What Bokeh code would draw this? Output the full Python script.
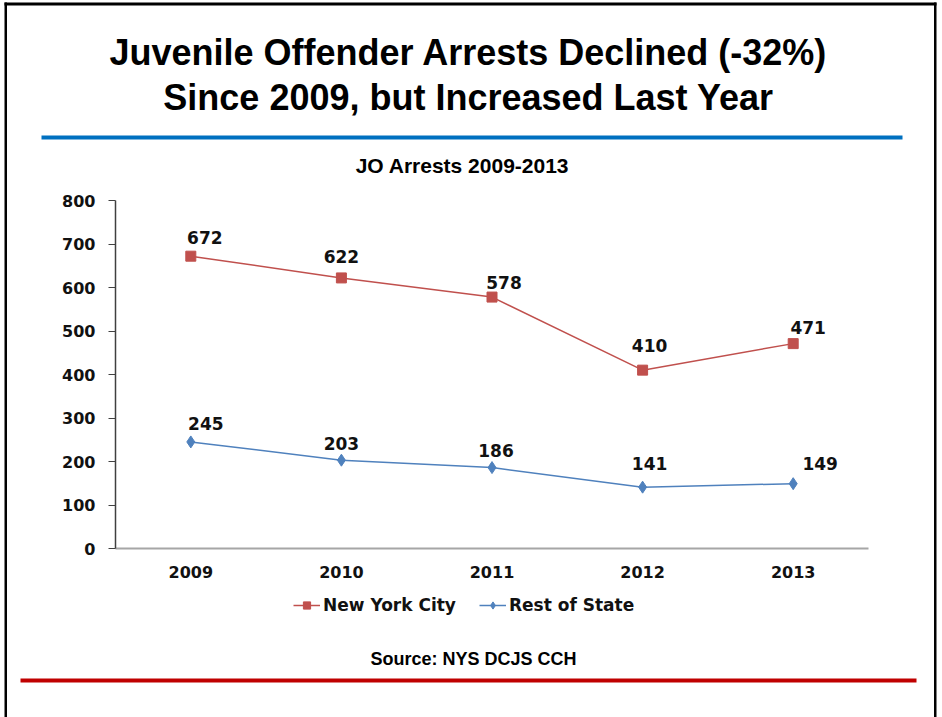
from bokeh.plotting import figure
from bokeh.models import (Range1d, Label, BoxAnnotation, Legend, LegendItem,
                          LinearAxis, FixedTicker)
from bokeh.core.properties import value
from bokeh.embed import file_html
from bokeh.resources import INLINE

# ---------------- data ----------------
years = ["2009", "2010", "2011", "2012", "2013"]
nyc = [672, 622, 578, 410, 471]
rest_of_state = [245, 203, 186, 141, 149]
y_ticks = [0, 100, 200, 300, 400, 500, 600, 700, 800]
series_names = ["New York City", "Rest of State"]
title_lines = ["Juvenile Offender Arrests Declined (-32%)",
               "Since 2009, but Increased Last Year"]
subtitle = "JO Arrests 2009-2013"
source_note = "Source: NYS DCJS CCH"

# ---------------- layout / styles ----------------
W, H = 942, 717
PL, PR, PT, PB = 115, 868, 200, 548     # plot-area edges in page pixels
Y_MAX = 800
RED = "#C0504D"
BLUE = "#4F81BD"
NUM_FONT = "DejaVu Sans"
HEAVY_FONT = "Liberation Sans"
# label nudges (pixels) for the data labels
nyc_dx = [14, 0, 12, 7, 15]
nyc_dy = [-19, -21, -15, -25, -16]
rest_dx = [15, 0, 4, 7, 27]
rest_dy = [-18, -17, -17, -24, -20]

n = len(years)
xi = list(range(n))
kx = (PR - PL) / n
ky = (PB - PT) / Y_MAX
x_range = Range1d(-0.5 - PL / kx, n - 0.5 + (W - PR) / kx)
y_range = Range1d(0 - (H - PB) / ky, Y_MAX + PT / ky)

p = figure(width=W, height=H, x_range=x_range, y_range=y_range,
           output_backend="svg", toolbar_location=None,
           x_axis_location=None, y_axis_location=None,
           min_border=0, min_border_left=0, min_border_right=0,
           min_border_top=0, min_border_bottom=0)
p.outline_line_color = None
p.background_fill_color = "white"
p.border_fill_color = "white"
p.xgrid.visible = False
p.ygrid.visible = False

# axes (fixed inside the frame)
yaxis = LinearAxis(ticker=FixedTicker(ticks=y_ticks), fixed_location=-0.5,
                   bounds=(0, Y_MAX))
yaxis.axis_line_color = "#404040"
yaxis.axis_line_width = 1.5
yaxis.major_tick_line_color = "#404040"
yaxis.major_tick_out = 7
yaxis.major_tick_in = 0
yaxis.minor_tick_line_color = None
yaxis.major_label_standoff = 13

xaxis = LinearAxis(ticker=FixedTicker(ticks=xi), fixed_location=0,
                   bounds=(-0.5, n - 0.5))
xaxis.major_label_overrides = {i: y for i, y in zip(xi, years)}
xaxis.axis_line_color = "#A6A6A6"
xaxis.axis_line_width = 2
xaxis.major_tick_line_color = None
xaxis.minor_tick_line_color = None
xaxis.major_tick_out = 0
xaxis.major_tick_in = 0
xaxis.major_label_standoff = 17
for ax in (xaxis, yaxis):
    ax.major_label_text_font = NUM_FONT
    ax.major_label_text_font_style = "bold"
    ax.major_label_text_font_size = "16px"
    ax.major_label_text_color = "#111111"
p.add_layout(yaxis, "left")
p.add_layout(xaxis, "below")

# series
l1 = p.line(xi, nyc, line_color=RED, line_width=1.5)
m1 = p.scatter(xi, nyc, marker="square", size=10, fill_color=RED, line_color=RED)
l2 = p.line(xi, rest_of_state, line_color=BLUE, line_width=1.5)
m2 = p.scatter(xi, rest_of_state, marker="diamond", size=12, fill_color=BLUE,
               line_color=BLUE)

p.text(x=xi, y=nyc, text=[str(v) for v in nyc], x_offset=nyc_dx, y_offset=nyc_dy,
       text_align="center", text_baseline="middle", text_font=value(NUM_FONT),
       text_font_style="bold", text_font_size="17px", text_color="#111111")
p.text(x=xi, y=rest_of_state, text=[str(v) for v in rest_of_state], x_offset=rest_dx,
       y_offset=rest_dy, text_align="center", text_baseline="middle",
       text_font=value(NUM_FONT), text_font_style="bold", text_font_size="17px",
       text_color="#111111")

legend = Legend(items=[LegendItem(label=series_names[0], renderers=[l1, m1]),
                       LegendItem(label=series_names[1], renderers=[l2, m2])],
                orientation="horizontal", location=(293, H - 615),
                background_fill_alpha=0, border_line_color=None, padding=0, margin=0,
                spacing=23, label_standoff=3, glyph_width=27, glyph_height=18,
                label_text_font=NUM_FONT, label_text_font_style="bold",
                label_text_font_size="17px", label_text_color="#111111")
p.add_layout(legend, "center")

# titles & notes (screen units: x from left, y from bottom of page)
def add_text(txt, X, Y, size, font=HEAVY_FONT):
    p.add_layout(Label(x=X, y=H - Y, x_units="screen", y_units="screen", text=txt,
                       text_align="center", text_baseline="middle", text_font=font,
                       text_font_style="bold", text_font_size=size, text_color="#000000"))

add_text(title_lines[0], 468, 52, "36px")
add_text(title_lines[1], 468, 97, "36px")
add_text(subtitle, 462, 165, "21px")
add_text(source_note, 473, 658, "18px")

def add_box(X0, X1, Y0, Y1, color):
    p.add_layout(BoxAnnotation(left=X0, right=X1, top=H - Y0, bottom=H - Y1,
                               left_units="screen", right_units="screen",
                               top_units="screen", bottom_units="screen",
                               fill_color=color, fill_alpha=1, line_color=None))

add_box(41, 902, 135, 139, "#0070C0")     # blue rule under title
add_box(20, 916, 678, 682, "#C00000")     # red rule at bottom
add_box(4, 936, 2, 5, "#000000")          # frame top
add_box(4, 6.5, 2, H, "#000000")          # frame left
add_box(933.5, 936, 2, H, "#000000")      # frame right

open("out.html", "w").write(file_html(p, INLINE))
